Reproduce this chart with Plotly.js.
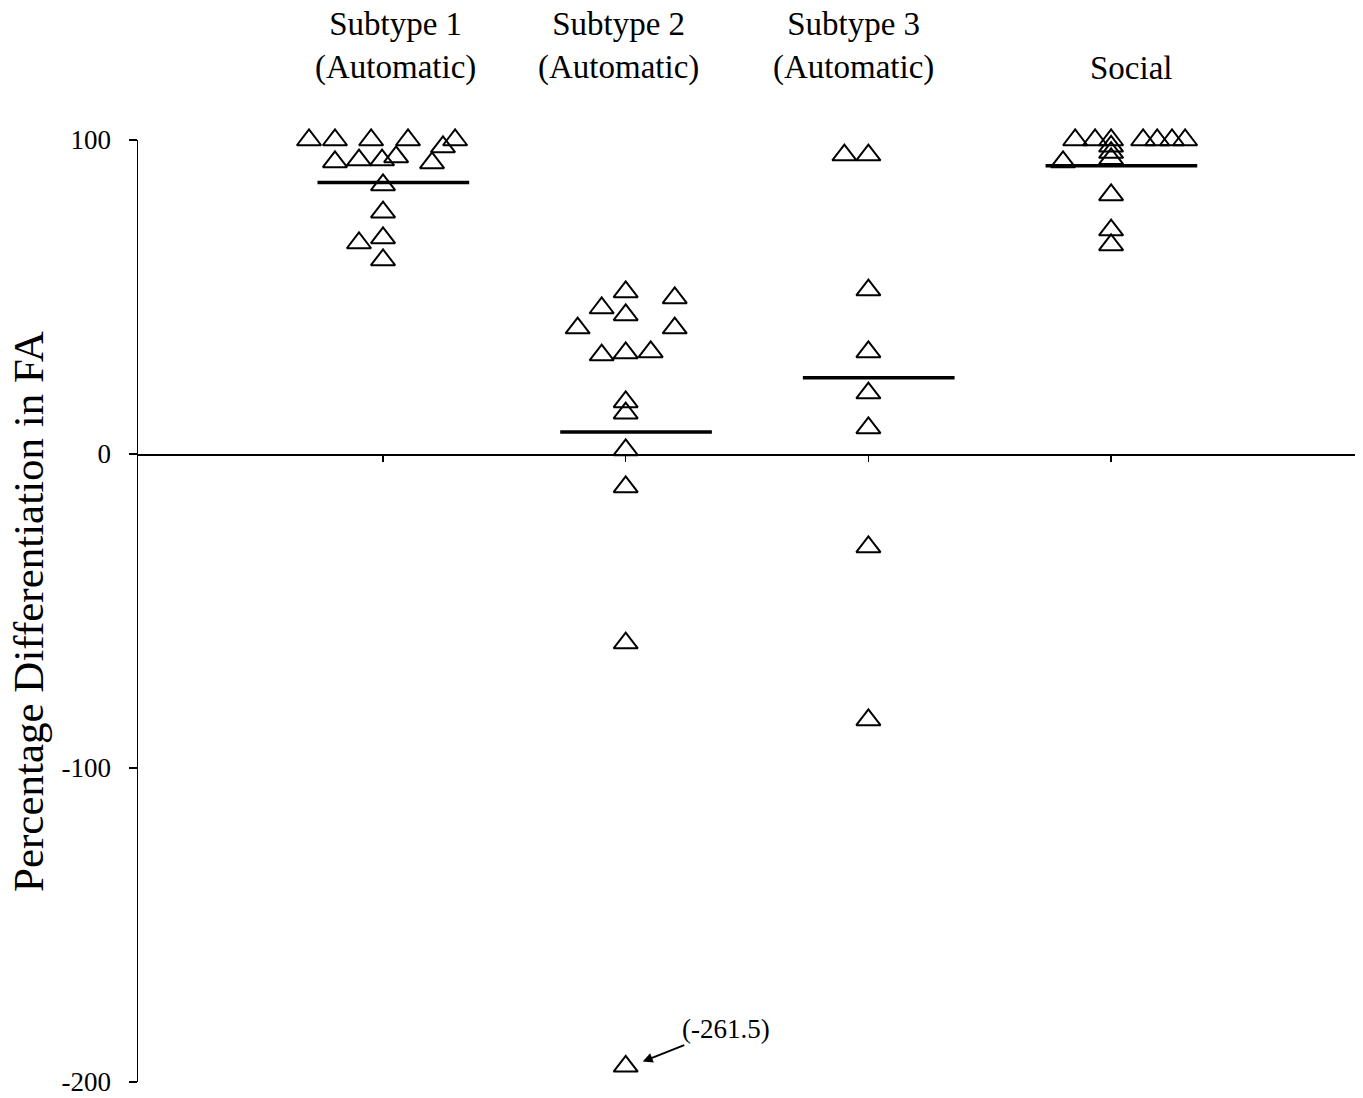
<!DOCTYPE html>
<html>
<head>
<meta charset="utf-8">
<script src="https://cdn.plot.ly/plotly-3.0.1.min.js"></script>
<style>
  html, body { margin: 0; padding: 0; background: #ffffff; }
  #chart { width: 1363px; height: 1098px; }
</style>
</head>
<body>
<div id="chart"></div>
<script>
// Group names (header labels above each column)
const groupLabels = ["Subtype 1<br>(Automatic)", "Subtype 2<br>(Automatic)", "Subtype 3<br>(Automatic)", "Social"];

// Percentage differentiation in FA for each participant, per group
const sub1Values = [100, 100, 100, 100, 100, 97.8, 93, 93.6, 93.6, 94.6, 92.7, 85.7, 77, 68.8, 67.2, 61.8];
const sub1Jitter = [-0.305, -0.198, -0.049, 0.103, 0.297, 0.247, -0.198, -0.099, -0.004, 0.054, 0.202, 0, 0, 0, -0.099, 0];

const sub2Values = [51.6, 46.5, 44.3, 49.7, 40.1, 40.1, 31.5, 32.2, 32.5, 16.6, 13, 1.3, -10.5, -60.2, -261.5];
const sub2Jitter = [0, -0.099, 0, 0.202, -0.198, 0.202, -0.099, 0, 0.103, 0, 0, 0, 0, 0, 0];

const sub3Values = [95.2, 95.2, 52.2, 32.5, 19.4, 8.3, -29.6, -84.7];
const sub3Jitter = [-0.099, 0, 0, 0, 0, 0, 0, 0];

const socialValues = [100, 100, 100, 100, 100, 100, 100, 98, 96, 94, 93, 82.5, 71.3, 66.6];
const socialJitter = [-0.148, -0.066, 0, 0.132, 0.19, 0.251, 0.305, 0, 0, 0, -0.198, 0, 0, 0];

// Group means (horizontal bars)
const groupMeans = [86.5, 7.0, 24.3, 91.8];

// Y axis ticks
const yTicks = [-200, -100, 0, 100];

// Axis range; values below the floor are drawn at the floor and labelled
const Y_MIN = -200, Y_MAX = 100;
const OFFSCALE_FLOOR = -195;

const groups = [
  { values: sub1Values, jitter: sub1Jitter },
  { values: sub2Values, jitter: sub2Jitter },
  { values: sub3Values, jitter: sub3Jitter },
  { values: socialValues, jitter: socialJitter }
];

const FONT = "Liberation Serif, Times New Roman, serif";
const traces = [];
const annotations = [];

// Mean bars (drawn first so markers sit on top)
const BAR_LEFT = 0.27, BAR_RIGHT = 0.355;
groupMeans.forEach((m, i) => {
  const pos = i + 1;
  traces.push({
    type: "scatter", mode: "lines",
    x: [pos - BAR_LEFT, pos + BAR_RIGHT], y: [m, m],
    line: { color: "#000", width: 3.5 },
    hoverinfo: "skip", showlegend: false
  });
});

// Individual points
groups.forEach((g, i) => {
  const pos = i + 1;
  traces.push({
    type: "scatter", mode: "markers",
    x: g.values.map((v, k) => pos + g.jitter[k]),
    y: g.values.map(v => Math.max(v, OFFSCALE_FLOOR)),
    marker: { symbol: "triangle-up-open", size: 21, color: "#000", line: { color: "#000", width: 2 } },
    cliponaxis: false, showlegend: false
  });
  // Label any point that lies below the visible scale with its true value
  g.values.forEach((v, k) => {
    if (v < Y_MIN) {
      annotations.push({
        x: pos + g.jitter[k] + 0.07, y: OFFSCALE_FLOOR + 1.5,
        xref: "x", yref: "y",
        text: "(" + v + ")",
        showarrow: true, arrowhead: 2, arrowsize: 1, arrowwidth: 2, arrowcolor: "#000",
        ax: 83, ay: -33,
        font: { family: FONT, size: 27, color: "#000" }
      });
    }
  });
});

// Column headers
const headerShift = [0.05, -0.03, -0.06, 0.08];
groupLabels.forEach((lab, i) => {
  annotations.push({
    x: i + 1 + headerShift[i], y: 1.055, xref: "x", yref: "paper",
    xanchor: "center", yanchor: "bottom",
    text: lab, showarrow: false,
    font: { family: FONT, size: 33, color: "#000" }
  });
});

// Vertical axis title
annotations.push({
  x: -0.0904, y: 0.5, xref: "paper", yref: "paper",
  xanchor: "center", yanchor: "middle",
  text: "Percentage Differentiation in FA", textangle: -90, showarrow: false,
  font: { family: FONT, size: 43, color: "#000" }
});

const layout = {
  width: 1363, height: 1098,
  margin: { l: 138, r: 8, t: 140, b: 16 },
  paper_bgcolor: "#fff", plot_bgcolor: "#fff",
  showlegend: false,
  font: { family: FONT, color: "#000" },
  xaxis: {
    range: [-0.0096, 5.005],
    anchor: "free", position: (0 - Y_MIN) / (Y_MAX - Y_MIN),
    showline: true, linecolor: "#000", linewidth: 1.5,
    ticks: "outside", ticklen: 6, tickwidth: 1.5, tickcolor: "#000",
    tickvals: [1, 2, 3, 4], showticklabels: false,
    showgrid: false, zeroline: false, fixedrange: true
  },
  yaxis: {
    range: [Y_MIN, Y_MAX],
    tickvals: yTicks,
    ticktext: yTicks.map(String),
    showline: true, linecolor: "#000", linewidth: 1.5,
    ticks: "outside", ticklen: 8, tickwidth: 1.5, tickcolor: "#000",
    ticklabelstandoff: 12,
    tickfont: { family: FONT, size: 27, color: "#000" },
    showgrid: false, zeroline: false, fixedrange: true
  },
  annotations: annotations
};

Plotly.newPlot("chart", traces, layout, { displayModeBar: false, staticPlot: true });
</script>
</body>
</html>
